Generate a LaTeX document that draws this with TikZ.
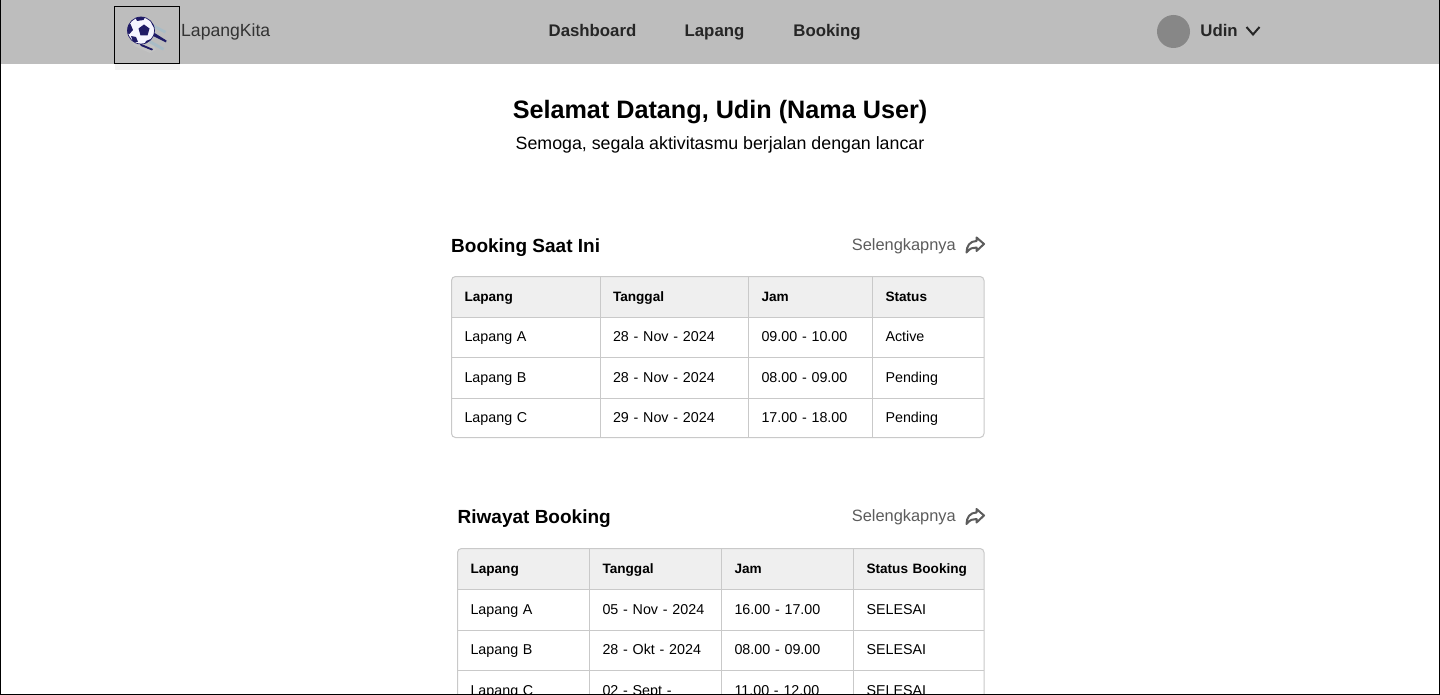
\documentclass[tikz,border=0pt]{standalone}
\usepackage{fontspec}
\setmainfont{Liberation Sans}
\usepackage{xcolor}
\usetikzlibrary{positioning}
\definecolor{navcolor}{HTML}{BDBDBD}
\definecolor{gridcolor}{HTML}{C9C9C9}
\definecolor{headcolor}{HTML}{EFEFEF}
\definecolor{linkcolor}{HTML}{5C5C5C}
\definecolor{navy}{HTML}{1F1B66}
\definecolor{streak}{HTML}{A9BCC6}
\newcommand{\px}[1]{\fontsize{#1}{#1}\selectfont}
\begin{document}
\begin{tikzpicture}[x=1pt,y=-1pt,
    navlink/.style={inner sep=0pt, font=\px{16.8}\bfseries, text=black!85, text height=12pt, text depth=3.5pt},
    link/.style={inner sep=0pt, font=\px{16.4}, text=linkcolor, text height=12pt, text depth=3.5pt},
    heading/.style={inner sep=0pt, font=\px{19}\bfseries, text height=14pt, text depth=4pt},
    cell/.style={draw=gridcolor, line width=1pt, outer sep=0pt, inner xsep=13pt, inner ysep=0pt, minimum height=#1, align=left, font=\px{14.3}, anchor=north west, text height=10.5pt, text depth=2pt},
    headcell/.style={cell=#1, fill=headcolor, font=\px{13.6}\bfseries},
    frame/.style={draw=gridcolor, line width=1pt, rounded corners=4pt}]
    \useasboundingbox (0,0) rectangle (1440,695);
    \fill[white] (0,0) rectangle (1440,695);

    %Navbar
    \fill[navcolor] (0,0) rectangle (1440,64.5);
    \fill[black!5] (115,64.5) rectangle (180,70);
    \node[draw=black, line width=1pt, outer sep=0pt, minimum width=65.5pt, minimum height=57.5pt, inner sep=0pt](logo) at (147,35){};
    \node[inner sep=0pt, anchor=west, font=\px{17.6}, text=black!80, text height=13pt, text depth=4pt](brand) at (181,32.5){LapangKita};
    \node[navlink](dashboard) at (592.5,32.5){Dashboard};
    \node[navlink](lapang) at (714.5,32.5){Lapang};
    \node[navlink](booking) at (827,32.5){Booking};
    \node[circle, fill=black!47, minimum size=33pt, inner sep=0pt](avatar) at (1173.5,31.5){};
    \node[navlink, right=10pt of avatar, yshift=-1pt](user){Udin};
    \coordinate (chevron) at (1253,31);
    \draw[black!85, line width=2pt] ([shift={(-6.5,-4)}]chevron) -- ([shift={(0,3.5)}]chevron) -- ([shift={(6.5,-4)}]chevron);

    %Ball
    \fill[black!22, opacity=.6] (129,36) -- (150,38) -- (156,50) -- (150,53) -- (134,46) -- cycle;
    \fill[streak] (153,24) -- (166,31) -- (165,33.5) -- (154,28) -- cycle;
    \fill[streak] (150,40) -- (164,48) -- (163,50.5) -- (149,43) -- cycle;
    \fill[navy] (153,32) -- (166.5,40.5) -- (166,42.5) -- (151,35) -- cycle;
    \fill[navy] (139,43) -- (153,49) -- (152,50.5) -- (141,46) -- cycle;
    \node[circle, draw=navy, fill=blue!4, line width=.7pt, minimum size=27pt, inner sep=0pt](ball) at (141,30.5){};
    \begin{scope}
        \clip (141,30.5) circle (13.5);
        \fill[navy] (144,24.5) -- (149.5,28.5) -- (147.5,35.5) -- (140.5,35.5) -- (138.5,28.5) -- cycle;
        \fill[navy] (134,15) -- (146,15) -- (143.5,20) -- (137,21) -- cycle;
        \fill[navy] (126,25) -- (130.5,24) -- (133,30) -- (129.5,34) -- (126,33) -- cycle;
        \fill[navy] (150,18) -- (155,24) -- (155,29) -- (152,24.5) -- cycle;
        \fill[navy] (131,36) -- (136,37) -- (138,42) -- (133,42) -- cycle;
        \fill[navy] (146,41) -- (151,39) -- (149,45) -- (144,45) -- cycle;
    \end{scope}

    %Heading
    \node[inner sep=0pt, font=\px{25.2}\bfseries, text height=18pt, text depth=5pt](title) at (720,112){Selamat Datang, Udin (Nama User)};
    \node[inner sep=0pt, font=\px{17.8}, text height=13pt, text depth=4pt, below=13pt of title](subtitle){Semoga, segala aktivitasmu berjalan dengan lancar};

    %Booking Saat Ini
    \node[heading, anchor=west](current) at (451,247){Booking Saat Ini};
    \node[link, anchor=east](currentmore) at (956,246.5){Selengkapnya};
    \begin{scope}
        \clip[rounded corners=4pt] (451.5,276.5) rectangle (984,437.5);
        \foreach \rowname/\y/\h/\ca/\cb/\cc/\cd/\kind in {
            h/276.5/40.5pt/Lapang/Tanggal/Jam/Status/headcell,
            r/317/40.5pt/Lapang A/28 - Nov - 2024/09.00 - 10.00/Active/cell,
            s/357.5/40.5pt/Lapang B/28 - Nov - 2024/08.00 - 09.00/Pending/cell,
            t/398/39.5pt/Lapang C/29 - Nov - 2024/17.00 - 18.00/Pending/cell}{
            \node[\kind=\h, minimum width=148.5pt, text width=122.5pt](\rowname1) at (451.5,\y){\ca};
            \node[\kind=\h, minimum width=148.5pt, text width=122.5pt](\rowname2) at (600,\y){\cb};
            \node[\kind=\h, minimum width=124pt, text width=98pt](\rowname3) at (748.5,\y){\cc};
            \node[\kind=\h, minimum width=111.5pt, text width=85.5pt](\rowname4) at (872.5,\y){\cd};
        }
    \end{scope}
    \draw[frame] (451.5,276.5) rectangle (984,437.5);

    %Riwayat Booking
    \node[heading, anchor=west](history) at (457.5,518){Riwayat Booking};
    \node[link, anchor=east](historymore) at (956,517.5){Selengkapnya};
    \begin{scope}
        \clip[rounded corners=4pt] (457.5,548.5) rectangle (984,720);
        \foreach \rowname/\y/\h/\ca/\cb/\cc/\cd/\kind in {
            u/548.5/41pt/Lapang/Tanggal/Jam/Status Booking/headcell,
            v/589.5/40.5pt/Lapang A/05 - Nov - 2024/16.00 - 17.00/SELESAI/cell,
            w/630/40.5pt/Lapang B/28 - Okt - 2024/08.00 - 09.00/SELESAI/cell,
            z/670.5/40.5pt/Lapang C/02 - Sept -/11.00 - 12.00/SELESAI/cell}{
            \node[\kind=\h, minimum width=132pt, text width=106pt](\rowname1) at (457.5,\y){\ca};
            \node[\kind=\h, minimum width=132pt, text width=106pt](\rowname2) at (589.5,\y){\cb};
            \node[\kind=\h, minimum width=132pt, text width=106pt](\rowname3) at (721.5,\y){\cc};
            \node[\kind=\h, minimum width=130.5pt, text width=104.5pt](\rowname4) at (853.5,\y){\cd};
        }
    \end{scope}
    \draw[frame] (457.5,548.5) rectangle (984,720);

    %Link arrows
    \foreach \arrowname/\ay in {currentarrow/245, historyarrow/516.5}{
        \coordinate (\arrowname) at (975,\ay);
        \draw[linkcolor, line width=2pt, line join=round, shift={(\arrowname)}] (9,-1) -- (1.5,-7.5) -- (1.5,-4) .. controls (-5,-4) and (-8.5,1) .. (-8.5,7.5) .. controls (-5,3) and (-2,2.5) .. (1.5,2.5) -- (1.5,6) -- cycle;
    }

    %Page border
    \draw[black, line width=1pt] (0.5,0) -- (0.5,694.5) -- (1439.5,694.5) -- (1439.5,0);
\end{tikzpicture}
\end{document}
